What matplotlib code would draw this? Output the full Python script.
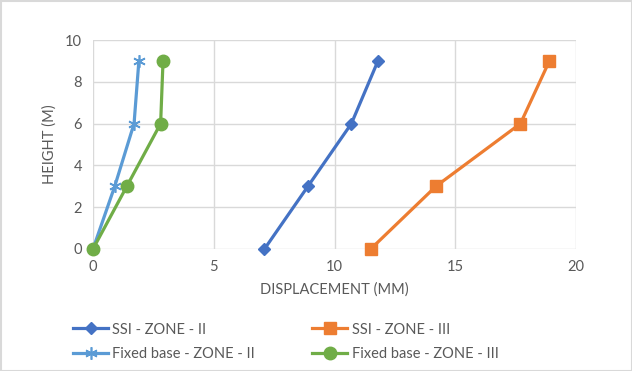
import matplotlib.pyplot as plt
from matplotlib.patches import Rectangle

plt.rcParams['font.family'] = ['Lato', 'DejaVu Sans']

heights = [0, 3, 6, 9]
ssi_zone2 = [7.1, 8.9, 10.7, 11.8]
ssi_zone3 = [11.5, 14.2, 17.7, 18.9]
fixed_zone2 = [0.0, 0.9, 1.7, 1.9]
fixed_zone3 = [0.0, 1.4, 2.8, 2.9]
labels = ['SSI - ZONE - II', 'SSI - ZONE - III',
          'Fixed base - ZONE - II', 'Fixed base - ZONE - III']

txt = '#595959'
grid = '#D9D9D9'

fig = plt.figure(figsize=(6.32, 3.71), dpi=100)
ax = fig.add_axes([93 / 632, 1 - 249 / 371, (576 - 93) / 632, (249 - 40) / 371])

ax.plot(ssi_zone2, heights, color='#4472C4', lw=2.3, marker='D', ms=6, label=labels[0])
ax.plot(ssi_zone3, heights, color='#ED7D31', lw=2.3, marker='s', ms=8, label=labels[1])
ax.plot(fixed_zone2, heights, color='#5B9BD5', lw=2.3, marker=(6, 2, 0), ms=9,
        mew=1.2, label=labels[2])
ax.plot(fixed_zone3, heights, color='#70AD47', lw=2.3, marker='o', ms=9, label=labels[3])

ax.set_xlim(0, 20)
ax.set_ylim(0, 10)
ax.set_xticks([0, 5, 10, 15, 20])
ax.set_yticks(range(0, 11, 2))
ax.grid(True, color=grid, lw=1)
ax.set_axisbelow(True)
for s in ax.spines.values():
    s.set_visible(False)
ax.tick_params(length=0, colors=txt, labelsize=10.5, pad=8)
ax.set_xlabel('DISPLACEMENT (MM)', color=txt, fontsize=10.5, labelpad=6)
ax.set_ylabel('HEIGHT (M)', color=txt, fontsize=10.5, labelpad=6)
for line in ax.lines:
    line.set_clip_on(False)

# row-wise legend order like the original
h, l = ax.get_legend_handles_labels()
order = [0, 2, 1, 3]
fig.legend([h[i] for i in order], [l[i] for i in order],
           loc='center left', bbox_to_anchor=(60 / 632, 1 - 342 / 371), ncol=2,
           frameon=False, fontsize=10.5, labelcolor=txt, handlelength=2.4,
           columnspacing=3.9, handletextpad=0.3, labelspacing=0.75)

fig.patches.append(Rectangle((0.5 / 632, 0.5 / 371), 1 - 1 / 632, 1 - 1 / 371,
                             transform=fig.transFigure, fill=False,
                             edgecolor=grid, lw=1.5))

fig.savefig('out.png', dpi=100)
